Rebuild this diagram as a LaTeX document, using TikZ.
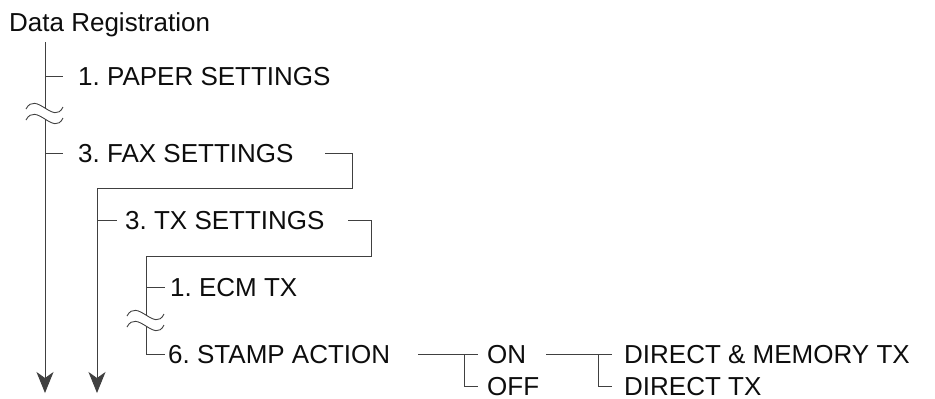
\documentclass[tikz,border=0pt]{standalone}
\usepackage{fontspec}
\setmainfont{Liberation Sans}
\usetikzlibrary{arrows.meta}
\frenchspacing
\begin{document}
\begin{tikzpicture}[x=1pt,y=-1pt,
  lbl/.style={anchor=base west,inner sep=0pt,font=\fontsize{26}{30}\selectfont,text=black!95},
  ln/.style={draw=black!75,line width=1pt},
  arr/.style={ln,-{Stealth[length=21pt,width=17pt,inset=6pt]}},
  wav/.style={draw=black!75,line width=0.9pt}]
\useasboundingbox (0,0) rectangle (935,399);
% text nodes
\node[lbl] (dr) at (9,31) {Data Registration};
\node[lbl] (paper) at (78,85) {1. PAPER SETTINGS};
\node[lbl] (fax) at (78,162) {3. FAX SETTINGS};
\node[lbl] (tx) at (125,229) {3. TX SETTINGS};
\node[lbl] (ecm) at (170,296) {1. ECM TX};
\node[lbl] (stamp) at (168,363) {6. STAMP ACTION};
\node[lbl] (on) at (487,363) {ON};
\node[lbl] (off) at (487,395) {OFF};
\node[lbl] (dm) at (624,363) {DIRECT \& MEMORY TX};
\node[lbl] (dt) at (624,395) {DIRECT TX};
% trunk 1
\coordinate (a0) at (45,42);
\coordinate (a1) at (45,108);
\coordinate (a2) at (45,119);
\coordinate (a3) at (45,393);
\draw[ln] (a0) -- (a1);
\draw[arr] (a2) -- (a3);
\draw[ln] (45,76) -- (63,76);
\draw[ln] (45,153) -- (63,153);
\foreach \yc in {108,119}
  \draw[wav] (26,\yc+1) .. controls (36,\yc-18) and (54,\yc+18) .. (63,\yc-1);
% fax connector and trunk 2
\coordinate (f0) at (325,153);
\coordinate (f1) at (352,153);
\coordinate (f2) at (352,188);
\coordinate (b0) at (97,188);
\coordinate (b1) at (97,393);
\draw[ln] (f0) -- (f1) -- (f2) -- (b0);
\draw[arr] (b0) -- (b1);
\draw[ln] (97,220) -- (117,220);
% tx connector and trunk 3
\coordinate (t0) at (348,220);
\coordinate (t1) at (371,220);
\coordinate (t2) at (371,256);
\coordinate (c0) at (146,256);
\coordinate (c1) at (146,315);
\coordinate (c2) at (146,326);
\coordinate (c3) at (146,354);
\coordinate (c4) at (165,354);
\draw[ln] (t0) -- (t1) -- (t2) -- (c0) -- (c1);
\draw[ln] (c2) -- (c3) -- (c4);
\draw[ln] (146,287) -- (165,287);
\foreach \yc in {315,326}
  \draw[wav] (127,\yc+1) .. controls (137,\yc-18) and (155,\yc+18) .. (164,\yc-1);
% stamp action branch
\coordinate (s0) at (418,354);
\coordinate (s1) at (478,354);
\coordinate (s2) at (464,354);
\coordinate (s3) at (464,386);
\coordinate (s4) at (478,386);
\draw[ln] (s0) -- (s1);
\draw[ln] (s2) -- (s3) -- (s4);
% on branch
\coordinate (o0) at (546,354);
\coordinate (o1) at (612,354);
\coordinate (o2) at (598,354);
\coordinate (o3) at (598,386);
\coordinate (o4) at (612,386);
\draw[ln] (o0) -- (o1);
\draw[ln] (o2) -- (o3) -- (o4);
\end{tikzpicture}
\end{document}
